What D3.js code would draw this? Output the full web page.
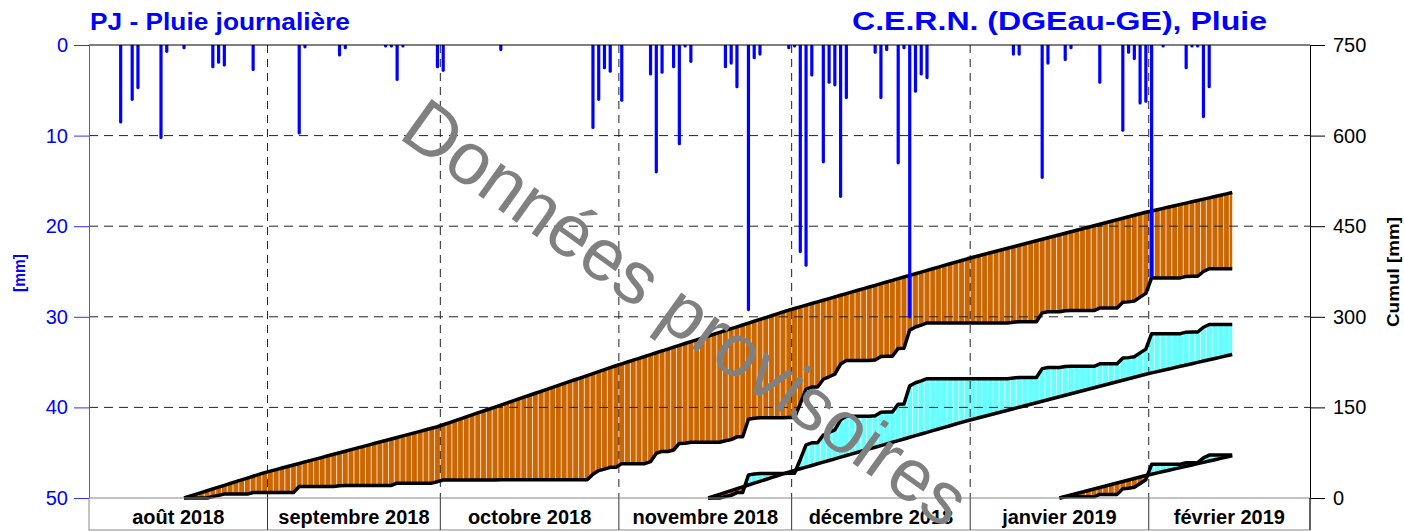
<!DOCTYPE html>
<html>
<head>
<meta charset="utf-8">
<script src="https://cdn.jsdelivr.net/npm/d3@7"></script>
<style>
body { margin: 0; background: #fff; }
text { font-family: "Liberation Sans", Arial, sans-serif; }
</style>
</head>
<body>
<svg id="chart" width="1404" height="531"></svg>
<script>
// daily rain (mm)
var rainDates = [
	"2018-08-06", "2018-08-08", "2018-08-09", "2018-08-13", "2018-08-14", "2018-08-17", "2018-08-22", "2018-08-23", "2018-08-24", "2018-08-29",
	"2018-09-06", "2018-09-07", "2018-09-13", "2018-09-14", "2018-09-21", "2018-09-22", "2018-09-23", "2018-09-24", "2018-09-30",
	"2018-10-01", "2018-10-11", "2018-10-27", "2018-10-28", "2018-10-29", "2018-10-30",
	"2018-11-01", "2018-11-06", "2018-11-07", "2018-11-08", "2018-11-10", "2018-11-11", "2018-11-12", "2018-11-13", "2018-11-19", "2018-11-20",
	"2018-11-21", "2018-11-23", "2018-11-24", "2018-11-25", "2018-11-30",
	"2018-12-01", "2018-12-02", "2018-12-03", "2018-12-04", "2018-12-06", "2018-12-07", "2018-12-08", "2018-12-09", "2018-12-10", "2018-12-15",
	"2018-12-16", "2018-12-17", "2018-12-19", "2018-12-20", "2018-12-21", "2018-12-22", "2018-12-23", "2018-12-24",
	"2019-01-08", "2019-01-09", "2019-01-13", "2019-01-14", "2019-01-17", "2019-01-18", "2019-01-23", "2019-01-27", "2019-01-28", "2019-01-29",
	"2019-01-30", "2019-01-31",
	"2019-02-01", "2019-02-03", "2019-02-07", "2019-02-08", "2019-02-09", "2019-02-10", "2019-02-11"
];
var rainValues = [
	8.5, 6.0, 4.7, 10.2, 0.7, 0.3, 2.4, 1.9, 2.2, 2.7,
	9.7, 0.2, 1.1, 0.3, 0.1, 0.1, 3.8, 0.1, 2.4,
	2.8, 0.5, 9.1, 6.0, 2.5, 2.9,
	6.1, 3.2, 14.0, 3.0, 2.4, 10.9, 0.1, 1.8, 2.4, 2.0,
	4.6, 29.2, 1.4, 1.0, 0.3,
	0.1, 22.8, 24.3, 3.3, 12.9, 4.1, 4.4, 16.7, 5.8, 0.8,
	5.8, 0.5, 13.0, 0.3, 30.0, 5.1, 3.2, 3.6,
	1.0, 1.0, 14.6, 2.0, 1.6, 0.3, 4.1, 9.4, 0.8, 1.5,
	6.4, 6.2,
	25.5, 0.1, 2.5, 0.1, 0.1, 7.9, 4.6
];

var normalMonths = ["2018-08", "2018-09", "2018-10", "2018-11", "2018-12", "2019-01", "2019-02"];
var normalMonthly = [93, 76, 101, 92, 85, 77, 61];

// cumulative windows: 6 months, 3 months, 1 month before the last day
var windowStarts = ["2018-08-17", "2018-11-16", "2019-01-16"];
var windowEnd = "2019-02-15";

var monthLabels = ["août 2018", "septembre 2018", "octobre 2018", "novembre 2018", "décembre 2018", "janvier 2019", "février 2019"];
var leftTicks = [0, 10, 20, 30, 40, 50];
var rightTicks = [0, 150, 300, 450, 600, 750];

var plotL = 89, plotR = 1310, plotT = 45, plotB = 498, boxB = 530;
var dayMs = 864e5;
var parse = d3.utcParse("%Y-%m-%d");
var fmtDay = d3.utcFormat("%Y-%m-%d");
var fmtMonth = d3.utcFormat("%Y-%m");

var x = d3.scaleUtc()
	.domain([parse("2018-08-01"), parse("2019-03-01")])
	.range([plotL, plotR]);
var yL = d3.scaleLinear().domain([0, 50]).range([plotT, plotB]);
var yR = d3.scaleLinear().domain([0, 750]).range([plotB, plotT]);

function mid(d) { return new Date(+d + dayMs / 2); }

var rainByDay = new Map(rainDates.map(function(d, i) { return [d, rainValues[i]]; }));
var normalByMonth = new Map(normalMonths.map(function(m, i) { return [m, normalMonthly[i]]; }));

function daysInMonth(d) {
	var m0 = d3.utcMonth.floor(d);
	return d3.utcDay.count(m0, d3.utcMonth.offset(m0, 1));
}

function windowSeries(startStr) {
	var days = d3.utcDay.range(parse(startStr), d3.utcDay.offset(parse(windowEnd), 1));
	var act = 0, norm = 0;
	return days.map(function(d, i) {
		if (i > 0) {
			act += rainByDay.get(fmtDay(d)) || 0;
			norm += normalByMonth.get(fmtMonth(d)) / daysInMonth(d);
		}
		return {date: d, act: act, norm: norm};
	});
}

var svg = d3.select("#chart");
var defs = svg.append("defs");

defs.append("clipPath").attr("id", "plotclip")
	.append("rect").attr("x", plotL).attr("y", plotT).attr("width", plotR - plotL).attr("height", plotB - plotT);

var fillLayer = svg.append("g");
var gridLayer = svg.append("g");
var curveLayer = svg.append("g");
var barLayer = svg.append("g").attr("clip-path", "url(#plotclip)");

// filled gaps between actual and normal cumulative
var areaBelow = d3.area()
	.x(function(d) { return x(mid(d.date)); })
	.y0(function(d) { return yR(d.norm); })
	.y1(function(d) { return yR(Math.min(d.act, d.norm)); });
var areaAbove = d3.area()
	.x(function(d) { return x(mid(d.date)); })
	.y0(function(d) { return yR(d.norm); })
	.y1(function(d) { return yR(Math.max(d.act, d.norm)); });
var areaBetween = d3.area()
	.x(function(d) { return x(mid(d.date)); })
	.y0(function(d) { return yR(d.norm); })
	.y1(function(d) { return yR(d.act); });
var lineAct = d3.line()
	.x(function(d) { return x(mid(d.date)); })
	.y(function(d) { return yR(d.act); });
var lineNorm = d3.line()
	.x(function(d) { return x(mid(d.date)); })
	.y(function(d) { return yR(d.norm); });

windowStarts.forEach(function(s, k) {
	var series = windowSeries(s);
	defs.append("clipPath").attr("id", "wclip" + k)
		.append("path").attr("d", areaBetween(series));

	fillLayer.append("path").attr("d", areaBelow(series)).attr("fill", "#cc6600");
	fillLayer.append("path").attr("d", areaAbove(series)).attr("fill", "#66ffff");

	var stripes = d3.utcDay.range(parse(s), d3.utcDay.offset(parse(windowEnd), 2));
	fillLayer.append("g")
		.attr("clip-path", "url(#wclip" + k + ")")
		.selectAll("line")
		.data(stripes)
		.enter()
			.append("line")
			.attr("x1", function(d) { return x(d); })
			.attr("x2", function(d) { return x(d); })
			.attr("y1", plotT)
			.attr("y2", plotB)
			.attr("stroke", "#fff")
			.attr("stroke-opacity", 0.75)
			.attr("stroke-width", 1);

	curveLayer.append("path").attr("d", lineNorm(series))
		.attr("fill", "none").attr("stroke", "#000").attr("stroke-width", 3.5).attr("stroke-linejoin", "round");
	curveLayer.append("path").attr("d", lineAct(series))
		.attr("fill", "none").attr("stroke", "#000").attr("stroke-width", 3.5).attr("stroke-linejoin", "round");
});

// dashed grid
var months = d3.utcMonth.range(parse("2018-08-01"), parse("2019-03-01"));
gridLayer.selectAll(".hgrid")
	.data(leftTicks.filter(function(t) { return t > 0 && t < 50; }))
	.enter()
		.append("line")
		.attr("x1", plotL).attr("x2", plotR)
		.attr("y1", function(d) { return yL(d); })
		.attr("y2", function(d) { return yL(d); })
		.attr("stroke", "#222").attr("stroke-dasharray", "9,6");
gridLayer.selectAll(".vgrid")
	.data(months.slice(1))
	.enter()
		.append("line")
		.attr("x1", function(d) { return x(d); })
		.attr("x2", function(d) { return x(d); })
		.attr("y1", plotT).attr("y2", plotB)
		.attr("stroke", "#222").attr("stroke-dasharray", "8,6");

// daily rain bars hanging from the top
barLayer.selectAll("line")
	.data(rainDates)
	.enter()
		.append("line")
		.attr("x1", function(d) { return x(mid(parse(d))); })
		.attr("x2", function(d) { return x(mid(parse(d))); })
		.attr("y1", yL(0))
		.attr("y2", function(d, i) { return yL(rainValues[i]); })
		.attr("stroke", "#0000ff")
		.attr("stroke-width", 3.2)
		.attr("stroke-linecap", "round");

// frame
svg.append("line").attr("x1", plotL).attr("x2", plotR).attr("y1", plotT).attr("y2", plotT).attr("stroke", "#000");

var axL = svg.append("g")
	.attr("transform", "translate(" + plotL + ",0)")
	.call(d3.axisLeft(yL).tickValues(leftTicks).tickSize(15).tickSizeOuter(0).tickPadding(6));
axL.select(".domain").attr("stroke", "#5050ff");
axL.selectAll(".tick line").attr("stroke", "#3030ff");
axL.selectAll(".tick text").attr("fill", "#0000ff").attr("font-size", 20).attr("font-family", "Liberation Sans, Arial, sans-serif");

var axR = svg.append("g")
	.attr("transform", "translate(" + plotR + ",0)")
	.call(d3.axisRight(yR).tickValues(rightTicks).tickSize(15).tickSizeOuter(0).tickPadding(8));
axR.select(".domain").attr("stroke", "#000");
axR.selectAll(".tick text").attr("fill", "#000").attr("font-size", 20).attr("font-family", "Liberation Sans, Arial, sans-serif");

// month boxes
var boxes = svg.append("g");
boxes.append("rect")
	.attr("x", plotL).attr("y", plotB).attr("width", plotR - plotL).attr("height", boxB - plotB)
	.attr("fill", "none").attr("stroke", "#888");
boxes.append("line").attr("x1", plotR).attr("x2", plotR).attr("y1", plotB).attr("y2", boxB).attr("stroke", "#000");
boxes.selectAll(".sep")
	.data(months.slice(1))
	.enter()
		.append("line")
		.attr("x1", function(d) { return x(d); })
		.attr("x2", function(d) { return x(d); })
		.attr("y1", plotB).attr("y2", boxB)
		.attr("stroke", "#333");
boxes.selectAll(".mlabel")
	.data(months)
	.enter()
		.append("text")
		.attr("x", function(d) { return (x(d) + x(d3.utcMonth.offset(d, 1))) / 2; })
		.attr("y", 524)
		.attr("text-anchor", "middle")
		.attr("font-size", 20)
		.attr("font-weight", "bold")
		.text(function(d, i) { return monthLabels[i]; });

// titles
svg.append("text")
	.attr("x", 90).attr("y", 30)
	.attr("font-size", 24).attr("font-weight", "bold").attr("fill", "#0000ff")
	.attr("textLength", 260).attr("lengthAdjust", "spacingAndGlyphs")
	.text("PJ - Pluie journalière");
svg.append("text")
	.attr("x", 1267).attr("y", 30)
	.attr("text-anchor", "end")
	.attr("font-size", 25).attr("font-weight", "bold").attr("fill", "#0000ff")
	.attr("textLength", 415).attr("lengthAdjust", "spacingAndGlyphs")
	.text("C.E.R.N. (DGEau-GE), Pluie");

svg.append("text")
	.attr("transform", "translate(25,273) rotate(-90)")
	.attr("text-anchor", "middle")
	.attr("font-size", 17).attr("font-weight", "bold").attr("fill", "#0000ff")
	.attr("textLength", 38).attr("lengthAdjust", "spacingAndGlyphs")
	.text("[mm]");
svg.append("text")
	.attr("transform", "translate(1399,272) rotate(-90)")
	.attr("text-anchor", "middle")
	.attr("font-size", 17).attr("font-weight", "bold").attr("fill", "#000")
	.attr("textLength", 110).attr("lengthAdjust", "spacingAndGlyphs")
	.text("Cumul [mm]");

// watermark
svg.append("text")
	.attr("transform", "translate(397,137) rotate(35.6)")
	.attr("font-size", 74).attr("fill", "#808080")
	.text("Données provisoires");
</script>
</body>
</html>
